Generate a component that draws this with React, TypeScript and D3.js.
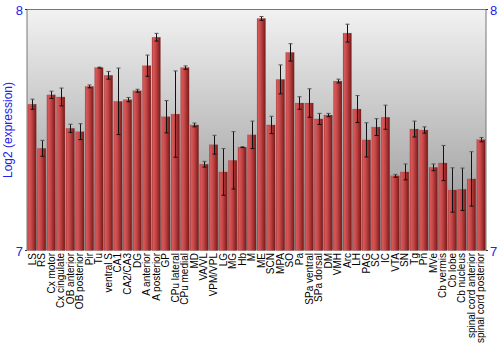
import React from "react";
import * as d3 from "d3";

const categories = ["LS","RS","Cx motor","Cx cingulate","OB anterior","OB posterior","Pir","Tu","ventral S","CA1","CA2/CA3","DG","A anterior","A posterior","GP","CPu lateral","CPu medial","MD","VA/VL","VPM/VPL","LG","MG","Hb","M","ME","SCN","MPA","SO","Pa","SPa ventral","SPa dorsal","DM","VMH","Arc","LH","PAG","SC","IC","VTA","SN","Tg","Pn","MVe","Cb vermis","Cb lobe","Cb nucleus","spinal cord anterior","spinal cord posterior"];
const values = [7.607,7.424,7.646,7.637,7.507,7.493,7.681,7.759,7.727,7.619,7.626,7.663,7.767,7.885,7.555,7.566,7.759,7.521,7.358,7.439,7.326,7.374,7.429,7.480,7.963,7.521,7.710,7.822,7.612,7.612,7.546,7.562,7.703,7.902,7.587,7.459,7.512,7.553,7.310,7.326,7.504,7.500,7.345,7.363,7.251,7.254,7.297,7.460];
const errors = [0.021,0.033,0.015,0.037,0.017,0.033,0.006,0.002,0.016,0.138,0.009,0.006,0.044,0.016,0.067,0.179,0.007,0.008,0.012,0.039,0.097,0.119,0.002,0.057,0.008,0.036,0.060,0.036,0.026,0.059,0.023,0.007,0.008,0.037,0.056,0.071,0.035,0.050,0.006,0.033,0.033,0.013,0.014,0.073,0.092,0.088,0.113,0.009];
const yTicks = [7, 8];
const yLabel = "Log2 (expression)";

export default function App() {
  const W = 500, H = 350;
  const left = 27, right = 486, top = 9.5, bottom = 250.5;
  const x = d3.scaleBand<string>().domain(categories).range([left, right]).paddingInner(0.11).paddingOuter(0.08);
  const y = d3.scaleLinear().domain([7, 8]).range([bottom, top]);
  const font = "'Liberation Sans', Arial, sans-serif";
  return (
    <svg width={W} height={H} style={{ position: "absolute", left: 0, top: 0 }}>
      <defs>
        <linearGradient id="bg" x1="0" y1="0" x2="0" y2="1">
          <stop offset="0%" stopColor="#f2f2f2" />
          <stop offset="100%" stopColor="#8e8e8e" />
        </linearGradient>
        <linearGradient id="bar" x1="0" y1="0" x2="1" y2="0">
          <stop offset="0%" stopColor="#bc3e3e" />
          <stop offset="15%" stopColor="#d65858" />
          <stop offset="45%" stopColor="#c44646" />
          <stop offset="100%" stopColor="#781818" />
        </linearGradient>
      </defs>
      <rect x={left} y={top} width={right - left} height={bottom - top} fill="url(#bg)" />
      {categories.map((c, i) => {
        const bx = x(c)!;
        const bw = x.bandwidth();
        const yt = y(values[i]);
        return (
          <rect key={c} x={bx} y={yt} width={bw} height={bottom - yt} fill="url(#bar)" stroke="rgba(120,60,60,0.3)" strokeWidth={0.5} />
        );
      })}
      {categories.map((c, i) => {
        const cx = Math.round(x(c)! + x.bandwidth() / 2) + 0.5;
        const y1 = y(values[i] + errors[i]);
        const y2 = y(values[i] - errors[i]);
        return (
          <g key={"e" + c} stroke="#111" strokeWidth={1}>
            <line x1={cx} x2={cx} y1={y1} y2={y2} />
            <line x1={cx - 2} x2={cx + 2} y1={y1} y2={y1} stroke="#555" />
            <line x1={cx - 2} x2={cx + 2} y1={y2} y2={y2} />
          </g>
        );
      })}
      <line x1={left} x2={right} y1={top} y2={top} stroke="#777" />
      <line x1={left} x2={left} y1={top} y2={bottom} stroke="#777" />
      <line x1={right} x2={right} y1={top} y2={bottom} stroke="#777" />
      {yTicks.map(t => (
        <g key={"t" + t}>
          <line x1={left - 2} x2={left} y1={y(t)} y2={y(t)} stroke="#333" />
          <line x1={right} x2={right + 2} y1={y(t)} y2={y(t)} stroke="#333" />
          <text x={left - 4} y={y(t) + 5} textAnchor="end" fontSize={13} fill="#2222ee" fontFamily={font}>{t}</text>
          <text x={right + 4} y={y(t) + 5} textAnchor="start" fontSize={13} fill="#2222ee" fontFamily={font}>{t}</text>
        </g>
      ))}
      <text transform={`translate(12,${(top + bottom) / 2}) rotate(-90)`} textAnchor="middle" fontSize={12} fill="#2222ee" fontFamily={font}>{yLabel}</text>
      {categories.map(c => {
        const cx = x(c)! + x.bandwidth() / 2 + 3.5;
        return (
          <text key={"l" + c} transform={`translate(${cx},${bottom + 2.5}) rotate(-90)`} textAnchor="end" fontSize={10} fill="#000" fontFamily={font}>{c}</text>
        );
      })}
    </svg>
  );
}
